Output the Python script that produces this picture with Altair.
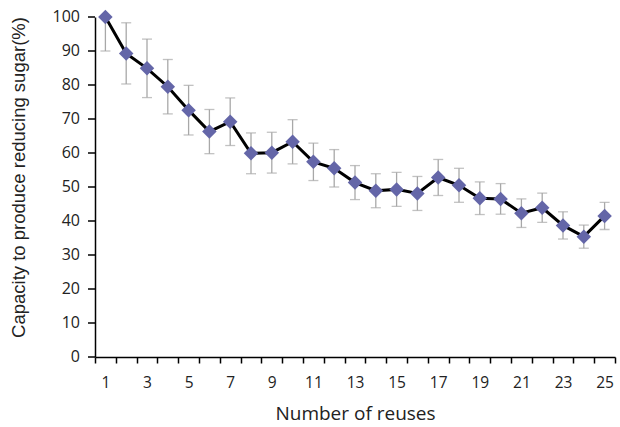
import altair as alt
import pandas as pd

reuses = list(range(1, 26))
capacity = [100, 89.3, 84.9, 79.5, 72.6, 66.3, 69.2, 59.9, 60.1, 63.3, 57.4, 55.5, 51.3,
            48.9, 49.3, 48.1, 52.8, 50.5, 46.7, 46.5, 42.3, 43.9, 38.7, 35.4, 41.5]
error = [10, 9, 8.6, 8, 7.3, 6.5, 7, 6, 6, 6.5, 5.5, 5.5, 5, 5, 5, 5, 5.3, 5, 4.8, 4.5,
         4.2, 4.3, 4, 3.4, 4]
y_ticks = list(range(0, 101, 10))

df = pd.DataFrame({"reuse": reuses, "cap": capacity, "err": error})
df["lo"] = df["cap"] - df["err"]
df["hi"] = df["cap"] + df["err"]
ticks_df = pd.DataFrame({"v": y_ticks})

FONT = "Open Sans"
TXT = "#222222"

x = alt.X(
    "reuse:O",
    scale=alt.Scale(paddingInner=0, paddingOuter=0),
    axis=alt.Axis(
        title="Number of reuses",
        labelAngle=0,
        grid=False,
        tickBand="extent",
        labelExpr="datum.value % 2 == 1 ? datum.label : ''",
        labelFont=FONT, labelFontSize=15.5, labelColor=TXT, labelPadding=12,
        tickSize=6, tickColor="black", tickWidth=1.5,
        domainColor="black", domainWidth=1.5,
        titleFont=FONT, titleFontSize=19, titleFontWeight="normal", titleColor=TXT,
        titleY=56, titleBaseline="middle",
    ),
)

yscale = alt.Scale(domain=[0, 100], nice=False)
yaxis = alt.Axis(
    title="Capacity to produce reducing sugar(%)",
    ticks=False,
    labels=False,
    grid=False,
    domainColor="black", domainWidth=1.5,
    titleFont="Liberation Sans", titleFontSize=18.5, titleFontWeight="normal", titleColor=TXT,
    titleX=-77, titleY=160, titleAngle=-90, titleAlign="center", titleBaseline="middle",
)


def Y(field):
    return alt.Y(field, scale=yscale, axis=yaxis)


base = alt.Chart(df)

rules = base.mark_rule(color="#A8A8A8", strokeWidth=1.3, clip=True).encode(
    x=x, y=Y("lo:Q"), y2="hi:Q"
)
cap_lo = base.mark_tick(color="#A8A8A8", thickness=1.3, size=10, clip=True).encode(
    x=x, y=Y("lo:Q")
)
cap_hi = base.mark_tick(color="#A8A8A8", thickness=1.3, size=10, clip=True).encode(
    x=x, y=Y("hi:Q")
)
line = base.mark_line(color="black", strokeWidth=3).encode(
    x=x, y=Y("cap:Q")
)
points = base.mark_point(shape="diamond", filled=True, size=210, color="#6466A8", opacity=1).encode(
    x=x, y=Y("cap:Q")
)

tick_base = alt.Chart(ticks_df)
y_tick_marks = tick_base.mark_rule(color="black", strokeWidth=1.5).encode(
    y=Y("v:Q"), x=alt.value(-7), x2=alt.value(0)
)
y_tick_labels = tick_base.mark_text(
    align="right", baseline="middle", font=FONT, fontSize=16, color=TXT
).encode(
    y=Y("v:Q"), x=alt.value(-15), text="v:Q"
)

chart = (
    alt.layer(y_tick_marks, y_tick_labels, rules, cap_lo, cap_hi, line, points)
    .properties(
        width=520,
        height=340,
        autosize=alt.AutoSizeParams(type="none"),
        padding={"left": 95, "top": 17, "right": 5, "bottom": 70},
        background="white",
    )
    .configure_view(strokeWidth=0, stroke=None)
)

chart.save("out.html", embed_options={"renderer": "svg", "actions": False})
